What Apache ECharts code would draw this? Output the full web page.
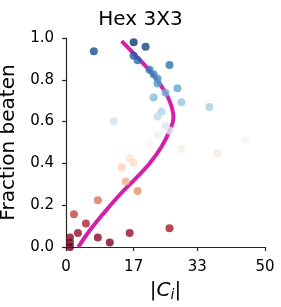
<!DOCTYPE html>
<html>
<head>
<meta charset="utf-8">
<script src="https://cdn.jsdelivr.net/npm/echarts@6/dist/echarts.min.js"></script>
<style>
html,body{margin:0;padding:0;background:#fff;}
#chart{width:281px;height:307px;}
</style>
</head>
<body>
<div id="chart"></div>
<script>
// Scatter data: |C_i| and fraction beaten
const ciValues = [7, 17, 20, 17, 18, 26, 21, 22, 23, 23, 28, 25, 22, 29, 36, 24, 23, 12, 25, 26, 23, 45, 21, 29, 38, 16, 17, 14, 15, 18, 8, 2, 5, 26, 3, 16, 1, 8, 1, 11, 1];
const fractionBeaten = [0.937, 0.980, 0.958, 0.915, 0.893, 0.871, 0.848, 0.827, 0.805, 0.782, 0.760, 0.738, 0.715, 0.693, 0.670, 0.647, 0.625, 0.602, 0.580, 0.558, 0.536, 0.513, 0.491, 0.469, 0.447, 0.425, 0.403, 0.380, 0.313, 0.268, 0.224, 0.157, 0.112, 0.090, 0.067, 0.067, 0.045, 0.045, 0.022, 0.022, 0.0];
// Fitted curve
const fitX = [3.1, 6.0, 9.4, 13.5, 17.6, 21.0, 24.0, 26.1, 27.0, 26.0, 23.6, 20.5, 16.8, 14.0];
const fitY = [0.0, 0.08, 0.16, 0.25, 0.33, 0.40, 0.48, 0.56, 0.62, 0.70, 0.78, 0.855, 0.93, 0.985];
// Tick labels
const xTicks = [0, 17, 33, 50];
const yTicks = [0.0, 0.2, 0.4, 0.6, 0.8, 1.0];
const rdBu = ['#67001f', '#b2182b', '#d6604d', '#f4a582', '#fddbc7', '#f7f7f7', '#d1e5f0', '#92c5de', '#4393c3', '#2166ac', '#053061'];

const axisColor = '#262626';
const font = 'DejaVu Sans';

const chart = echarts.init(document.getElementById('chart'), null, {renderer: 'canvas'});
chart.setOption({
  animation: false,
  backgroundColor: '#ffffff',
  title: {
    text: 'Hex 3X3',
    left: 'center',
    top: 5,
    textStyle: {fontFamily: font, fontSize: 20, fontWeight: 'normal', color: '#000'}
  },
  grid: {left: 66, right: 16, top: 38, bottom: 60, containLabel: false, outerBoundsMode: 'none'},
  xAxis: {
    type: 'value', min: 0, max: 50, offset: 6,
    name: '|{it|C}{sub|i}|',
    nameLocation: 'middle', nameGap: 27,
    nameTextStyle: {
      fontFamily: font, fontSize: 20, color: '#000',
      rich: {
        it: {fontFamily: font, fontSize: 20, fontStyle: 'italic', color: '#000'},
        sub: {fontFamily: font, fontSize: 14, fontStyle: 'italic', color: '#000', verticalAlign: 'bottom', padding: [8, 0, 0, 0]}
      }
    },
    axisLine: {show: true, lineStyle: {color: axisColor, width: 1.2}},
    axisTick: {show: true, length: 4, lineStyle: {color: axisColor, width: 1.2}, customValues: xTicks},
    axisLabel: {customValues: xTicks, fontFamily: font, fontSize: 15, color: '#000', margin: 7},
    splitLine: {show: false}
  },
  yAxis: {
    type: 'value', min: 0, max: 1, interval: 0.2, offset: 5,
    name: 'Fraction beaten',
    nameLocation: 'middle', nameGap: 33, nameRotate: 90,
    nameTextStyle: {fontFamily: font, fontSize: 20, color: '#000'},
    axisLine: {show: true, lineStyle: {color: axisColor, width: 1.2}},
    axisTick: {show: true, length: 4, lineStyle: {color: axisColor, width: 1.2}},
    axisLabel: {fontFamily: font, fontSize: 15, color: '#000', margin: 7,
      formatter: v => yTicks.includes(+v.toFixed(1)) ? v.toFixed(1) : ''},
    splitLine: {show: false}
  },
  visualMap: {
    type: 'continuous', show: false, min: 0, max: 1, dimension: 1, seriesIndex: 1,
    inRange: {color: rdBu}
  },
  series: [
    {
      type: 'line',
      data: fitX.map((x, i) => [x, fitY[i]]),
      smooth: 0.4,
      showSymbol: false,
      lineStyle: {color: '#d61fa8', width: 4},
      z: 2
    },
    {
      type: 'scatter',
      data: ciValues.map((x, i) => [x, fractionBeaten[i]]),
      symbolSize: 8,
      itemStyle: {opacity: 0.8},
      z: 3
    }
  ]
});
</script>
</body>
</html>
